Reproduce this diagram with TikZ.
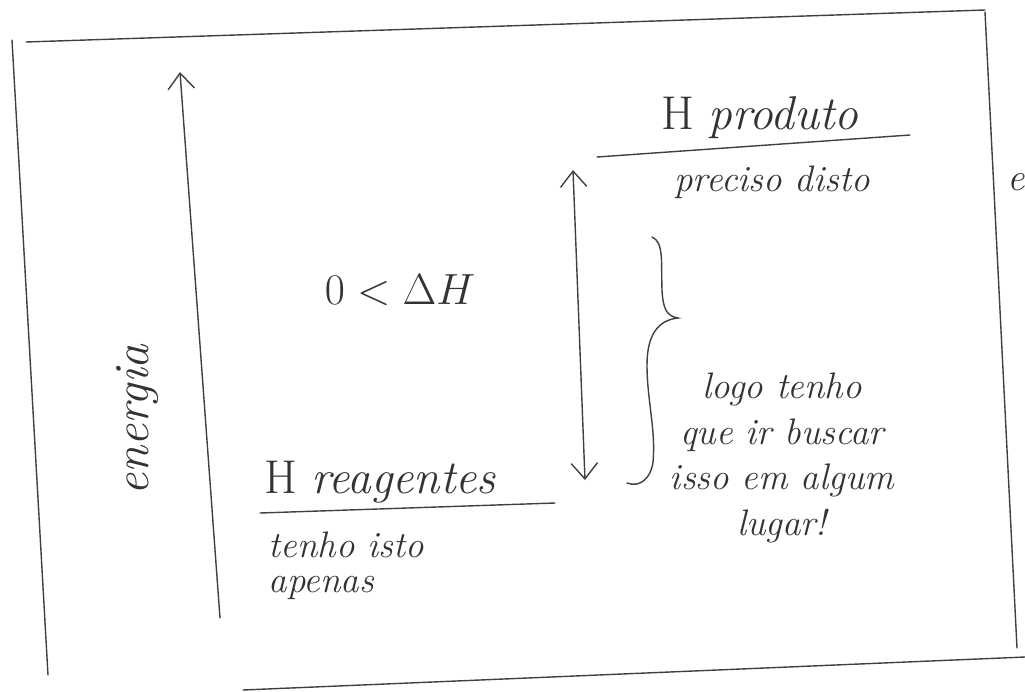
\documentclass[tikz,border=0pt]{standalone}
\usepackage{amsmath}
\usepackage{amssymb}
\usetikzlibrary{arrows.meta}

\begin{document}
\begin{tikzpicture}[x=0.02cm, y=-0.02cm, line width=0.8pt,
  >={Straight Barb[length=9pt,width=15pt]},
  pencil/.style={draw=black!75, line cap=round},
  txt/.style={text=black!80, inner sep=0pt},
  big/.style={txt, font=\fontsize{27}{30}\selectfont},
  small/.style={txt, font=\fontsize{21}{26}\selectfont\itshape}]
\useasboundingbox (0,0) rectangle (1025,691);
% the sheet
\draw [pencil] (12,40) -- (48,675);
\draw [pencil] (26,42) -- (985,10);
\draw [pencil] (985,12) -- (1017,648);
\draw [pencil] (243,690) -- (1025,657);
\node [txt, font=\fontsize{22}{24}\selectfont\itshape] (cut) at (1016,182) {e};
% energy axis
\coordinate (axbot) at (220,618);
\coordinate (axtop) at (180,72);
\draw [pencil, ->] (axbot) -- (axtop);
\node [small, rotate=90, font=\fontsize{28}{30}\selectfont\itshape] (energia) at (138,420) {energia};
% products
\coordinate (p0) at (597,157);
\coordinate (p1) at (910,135);
\draw [pencil] (p0) -- (p1);
\node [big] (hprod) at (760,118) {H \itshape produto};
\node [small] (precisa) at (772,182) {preciso disto};
% reagents
\coordinate (r0) at (260,513);
\coordinate (r1) at (555,503);
\draw [pencil] (r0) -- (r1);
\node [big] (hreag) at (380,482) {H \itshape reagentes};
\node [small, anchor=west] (tenho) at (268,545) {tenho isto};
\node [small, anchor=west] (apenas) at (268,588) {apenas};
% delta H
\coordinate (dtop) at (573,170);
\coordinate (dbot) at (585,480);
\draw [pencil, <->] (dtop) -- (dbot);
\node [big] (dh) at (400,290) {$0 < \Delta H$};
% brace and remark
\draw [pencil] (652,237) .. controls (664,242) and (661,262) .. (662,290)
  .. controls (663,308) and (666,316) .. (678,318)
  .. controls (658,320) and (647,335) .. (647,365)
  .. controls (647,400) and (656,430) .. (653,462)
  .. controls (651,478) and (640,488) .. (627,483);
\node [small, align=center] (logo) at (782,458) {logo tenho\\que ir buscar\\isso em algum\\lugar!};
\end{tikzpicture}
\end{document}
